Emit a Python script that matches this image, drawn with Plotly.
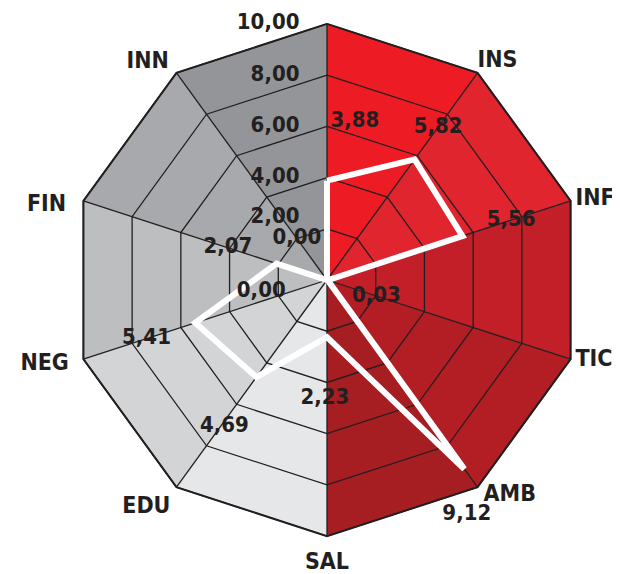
import plotly.graph_objects as go

# ---- data ----
CATEGORIES = ["", "INS", "INF", "TIC", "AMB", "SAL", "EDU", "NEG", "FIN", "INN"]
VALUES = [3.88, 5.82, 5.56, 0.03, 9.12, 2.23, 4.69, 5.41, 2.07, 0.00]
TICK_VALUES = [0, 2, 4, 6, 8, 10]
R_MAX = 10

# ---- style ----
SECTOR_COLORS = ["#ED1C24", "#E1252F", "#C21F29", "#B31E25", "#A61D22",
                 "#E6E7E8", "#D3D4D6", "#BCBEC0", "#A7A9AC", "#939598"]
INK = "#231F20"
FONT = "Liberation Sans Narrow, Arial Narrow, DejaVu Sans Condensed, sans-serif"
R_VIEW = 10.62  # radial room kept for the outer labels

# category label placement: (radius, angle nudge, textposition)
CAT_PLACE = {
    "INS": (10.0, 0, "top right"),
    "INF": (10.2, 0, "middle right"),
    "TIC": (10.2, 0, "middle right"),
    "AMB": (10.4, 0, "middle right"),
    "SAL": (10.6, 0, "bottom center"),
    "EDU": (10.4, 0, "bottom left"),
    "NEG": (10.6, 0, "middle left"),
    "FIN": (10.6, -2, "middle left"),
    "INN": (10.5, 0, "middle left"),
}
# data label placement: (radial offset, angle nudge, textposition)
LAB_PLACE = {0: (2.4, 10, "middle center"), 1: (1.56, 0, "middle center"),
             4: (1.18, 4, "bottom center"), 5: (2.4, 1, "middle center"),
             6: (2.3, -1, "middle center")}

n = len(CATEGORIES)
angles = [i * 360 / n for i in range(n)]


def fmt(v):
    return f"{v:.2f}".replace(".", ",")


fig = go.Figure()

# colored sectors
for i in range(n):
    a0 = angles[i]
    a1 = angles[i + 1] if i + 1 < n else 360
    fig.add_trace(go.Scatterpolar(
        r=[0, R_MAX, R_MAX, 0], theta=[a0, a0, a1, a0],
        mode="lines", fill="toself", fillcolor=SECTOR_COLORS[i],
        line=dict(width=0, color=SECTOR_COLORS[i]),
        hoverinfo="skip", showlegend=False, cliponaxis=False))

# grid rings
ring_r, ring_t = [], []
for t in TICK_VALUES[1:]:
    ring_r += [t] * (n + 1) + [None]
    ring_t += angles + [360] + [None]
fig.add_trace(go.Scatterpolar(
    r=ring_r, theta=ring_t, mode="lines",
    line=dict(color=INK, width=1.3), hoverinfo="skip",
    showlegend=False, cliponaxis=False, connectgaps=False))
# outer ring
fig.add_trace(go.Scatterpolar(
    r=[R_MAX] * (n + 1), theta=angles + [360], mode="lines",
    line=dict(color=INK, width=2), hoverinfo="skip",
    showlegend=False, cliponaxis=False))
# spokes
sp_r, sp_t = [], []
for a in angles:
    sp_r += [0, R_MAX, None]
    sp_t += [a, a, None]
fig.add_trace(go.Scatterpolar(
    r=sp_r, theta=sp_t, mode="lines",
    line=dict(color=INK, width=1.3), hoverinfo="skip",
    showlegend=False, cliponaxis=False, connectgaps=False))

# data line
fig.add_trace(go.Scatterpolar(
    r=VALUES + [VALUES[0]], theta=angles + [360], mode="lines",
    line=dict(color="white", width=6), hoverinfo="skip",
    showlegend=False, cliponaxis=False))

# tick labels on top spoke
tick_text, tick_pos = [], []
for t in TICK_VALUES:
    pad = 6 if t == 0 else 4
    tick_text.append(fmt(t) + "\u00a0" * pad)
    tick_pos.append("top left" if t == 2 else ("bottom left" if t == 0 else "middle left"))
fig.add_trace(go.Scatterpolar(
    r=TICK_VALUES, theta=[0] * len(TICK_VALUES), mode="text",
    text=tick_text, textposition=tick_pos,
    textfont=dict(family=FONT, size=22, color=INK, weight="bold"),
    hoverinfo="skip", showlegend=False, cliponaxis=False))

# data labels
lab_r, lab_t, lab_p = [], [], []
for i, v in enumerate(VALUES):
    dr, dt, pos = LAB_PLACE.get(i, (2.0, 0, "middle center"))
    lab_r.append(v + dr)
    lab_t.append(angles[i] + dt)
    lab_p.append(pos)
fig.add_trace(go.Scatterpolar(
    r=lab_r, theta=lab_t, mode="text",
    text=[fmt(v) for v in VALUES], textposition=lab_p,
    textfont=dict(family=FONT, size=22, color=INK, weight="bold"),
    hoverinfo="skip", showlegend=False, cliponaxis=False))

# category labels
cr, ct, ctxt, cpos = [], [], [], []
for i, c in enumerate(CATEGORIES):
    if not c:
        continue
    rr, dt, pos = CAT_PLACE[c]
    cr.append(rr)
    ct.append(angles[i] + dt)
    ctxt.append(c)
    cpos.append(pos)
fig.add_trace(go.Scatterpolar(
    r=cr, theta=ct, mode="text", text=ctxt, textposition=cpos,
    textfont=dict(family=FONT, size=23, color=INK, weight="bold"),
    hoverinfo="skip", showlegend=False, cliponaxis=False))

fig.update_layout(
    width=620, height=574,
    margin=dict(l=0, r=0, t=0, b=0),
    paper_bgcolor="white",
    showlegend=False,
    polar=dict(
        domain=dict(x=[47 / 620, 591 / 620], y=[1 - 544 / 574, 1]),
        bgcolor="white",
        radialaxis=dict(range=[0, R_VIEW], visible=False),
        angularaxis=dict(
            type="linear", rotation=90, direction="clockwise",
            showticklabels=False, showgrid=False, showline=False, ticks="",
        ),
    ),
)

fig.write_html("out.html")
